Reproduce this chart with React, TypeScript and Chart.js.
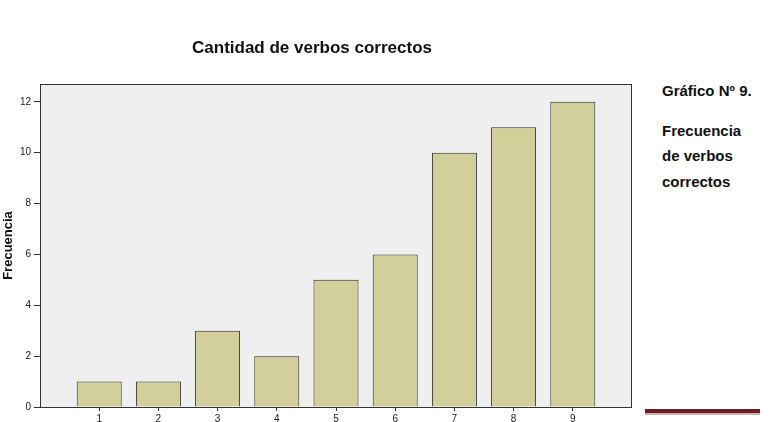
import React, { useEffect, useRef } from "react";
import { Chart, registerables } from "chart.js";

Chart.register(...registerables);

const categories = ["0", "1", "2", "3", "4", "5", "6", "7", "8", "9", "10"];
const frequencies = [null, 1, 1, 3, 2, 5, 6, 10, 11, 12, null];
const yTicks = [0, 2, 4, 6, 8, 10, 12];
const chartTitle = "Cantidad de verbos correctos";
const yTitle = "Frecuencia";
const sideLines = ["Gráfico Nº 9.", "Frecuencia", "de verbos", "correctos"];

const FONT = "Arial, 'Liberation Sans', Helvetica, sans-serif";

export default function App() {
  const ref = useRef<HTMLCanvasElement | null>(null);

  useEffect(() => {
    document.body.style.margin = "0";
    const canvas = ref.current!;
    const framePlugin = {
      id: "frame",
      beforeDraw(chart: any) {
        const { ctx, chartArea: a } = chart;
        ctx.save();
        ctx.fillStyle = "#efefef";
        ctx.fillRect(a.left, a.top, a.right - a.left, a.bottom - a.top);
        ctx.restore();
      },
      afterDraw(chart: any) {
        const { ctx, chartArea: a } = chart;
        ctx.save();
        ctx.strokeStyle = "#333333";
        ctx.lineWidth = 1;
        ctx.strokeRect(a.left + 0.5, a.top + 0.5, a.right - a.left - 1, a.bottom - a.top);
        ctx.fillStyle = "#111111";
        ctx.font = `bold 17px ${FONT}`;
        ctx.textAlign = "center";
        ctx.textBaseline = "middle";
        ctx.fillText(chartTitle, 312, 48);
        ctx.restore();
      },
    };

    const chart = new Chart(canvas, {
      type: "bar",
      data: {
        labels: categories,
        datasets: [
          {
            data: frequencies as any,
            backgroundColor: "#d3cf9a",
            borderColor: "#2a2a2a",
            borderWidth: 1,
            barPercentage: 0.76,
            categoryPercentage: 1,
          },
        ],
      },
      options: {
        responsive: false,
        animation: false,
        layout: { padding: { top: 84, right: 8, left: 0, bottom: 0 } },
        plugins: {
          legend: { display: false },
          title: { display: false },
          tooltip: { enabled: false },
        },
        scales: {
          x: {
            offset: false,
            border: { display: false },
            grid: {
              display: true,
              offset: false,
              drawOnChartArea: false,
              drawTicks: true,
              tickLength: 4,
              color: "#333333",
            },
            ticks: {
              padding: 2,
              maxRotation: 0,
              autoSkip: false,
              color: "#222222",
              font: { family: FONT, size: 10 },
            },
            afterBuildTicks: (scale: any) => {
              scale.ticks = scale.ticks.filter((t: any) => t.value >= 1 && t.value <= 9);
            },
            afterFit: (scale: any) => {
              scale.height = 15;
            },
          },
          y: {
            min: 0,
            max: 12.7,
            border: { display: false },
            grid: {
              display: true,
              drawOnChartArea: false,
              drawTicks: true,
              tickLength: 6,
              color: "#333333",
            },
            ticks: {
              stepSize: 2,
              padding: 3,
              color: "#222222",
              font: { family: FONT, size: 10 },
            },
            afterBuildTicks: (scale: any) => {
              scale.ticks = yTicks.map((v) => ({ value: v }));
            },
            title: {
              display: true,
              text: yTitle,
              color: "#111111",
              padding: { top: 1, bottom: 0 },
              font: { family: FONT, size: 13, weight: "bold" },
            },
            afterFit: (scale: any) => {
              scale.width = 40;
            },
          },
        },
      },
      plugins: [framePlugin],
    });
    return () => chart.destroy();
  }, []);

  return (
    <div style={{ position: "absolute", left: 0, top: 0, width: 769, height: 422, background: "#ffffff", overflow: "hidden" }}>
      <canvas ref={ref} width={640} height={422} style={{ position: "absolute", left: 0, top: 0 }} />
      <div
        style={{
          position: "absolute",
          left: 662,
          top: 78,
          fontFamily: FONT,
          fontWeight: "bold",
          fontSize: 15,
          color: "#111111",
          lineHeight: "25.5px",
        }}
      >
        <div style={{ marginBottom: 14 }}>{sideLines[0]}</div>
        <div>{sideLines[1]}</div>
        <div>{sideLines[2]}</div>
        <div>{sideLines[3]}</div>
      </div>
      <div style={{ position: "absolute", left: 645, top: 409, width: 115, height: 4, background: "#6b1f22" }} />
      <div style={{ position: "absolute", left: 645, top: 413, width: 115, height: 2, background: "#c9b0b0" }} />
    </div>
  );
}
